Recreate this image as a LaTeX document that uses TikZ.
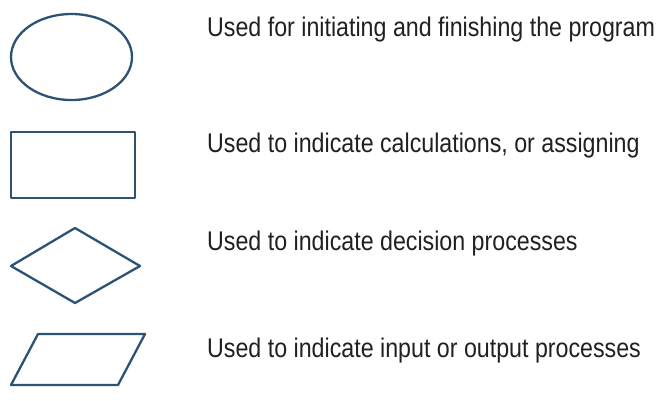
\documentclass[tikz,border=0pt]{standalone}
\usepackage{fontspec}
\setmainfont{Liberation Sans}[FakeStretch=0.86]
\definecolor{shapeblue}{HTML}{2C5274}
\definecolor{txtgray}{HTML}{231F20}
\begin{document}
\begin{tikzpicture}[x=1pt,y=-1pt,
  shapeline/.style={draw=shapeblue,line width=2.3pt,line join=round},
  legendtext/.style={anchor=base west,inner sep=0pt,text=txtgray,font=\fontsize{27}{31}\selectfont}]
\useasboundingbox (0,0) rectangle (658,400);
% ellipse
\draw[shapeline] (71.5,57) ellipse [x radius=60.5,y radius=43];
% rectangle
\draw[shapeline] (11,132) rectangle (135,198);
% diamond
\draw[shapeline] (11,266) -- (75,228) -- (140,266) -- (75,303) -- cycle;
% parallelogram
\draw[shapeline] (38,334) -- (145,334) -- (118,385) -- (11,385) -- cycle;
% texts
\node[legendtext] (t1) at (207,36) {Used for initiating and finishing the program};
\node[legendtext] (t2) at (207,152) {Used to indicate calculations, or assigning};
\node[legendtext] (t3) at (207,250) {Used to indicate decision processes};
\node[legendtext] (t4) at (207,357) {Used to indicate input or output processes};
\end{tikzpicture}
\end{document}
